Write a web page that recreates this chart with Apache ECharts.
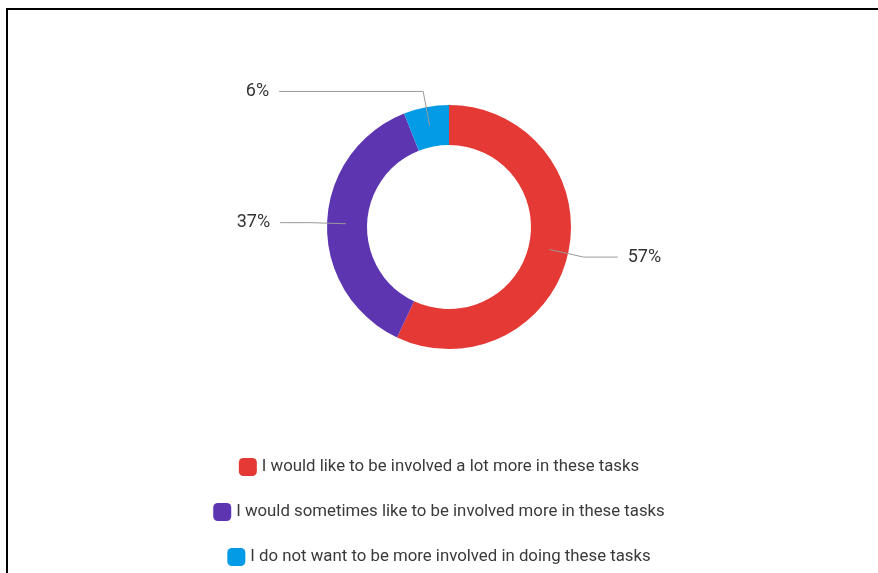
<!DOCTYPE html>
<html>
<head>
<meta charset="utf-8">
<script src="https://cdn.jsdelivr.net/npm/echarts@6/dist/echarts.min.js"></script>
<style>
html,body{margin:0;padding:0;background:#fff;}
#frame{position:absolute;left:6px;top:8px;width:1000px;height:1000px;border-left:2px solid #000;border-top:2px solid #000;box-sizing:border-box;}
#chart{position:absolute;left:0;top:0;width:878px;height:573px;}
</style>
</head>
<body>
<div id="frame"></div>
<div id="chart"></div>
<script>
const categories = [
  'I would like to be involved a lot more in these tasks',
  'I would sometimes like to be involved more in these tasks',
  'I do not want to be more involved in doing these tasks'
];
const values = [57, 37, 6];
const colors = ['#E53935', '#5E35B1', '#039BE5'];

const chart = echarts.init(document.getElementById('chart'), null, {renderer: 'canvas'});
const font = 'Roboto, "Noto Sans", sans-serif';
const lineLen2 = [34, 31, 144];
const legendTops = [453, 498, 543];
const option = {
  animation: false,
  legend: categories.map((c, i) => ({
    data: [c],
    left: 'center',
    top: legendTops[i],
    orient: 'horizontal',
    icon: 'roundRect',
    itemWidth: 18,
    itemHeight: 18,
    itemGap: 5,
    selectedMode: false,
    textStyle: {fontFamily: font, fontSize: 16.8, color: '#3a3a3a'}
  })),
  series: [
    {
      type: 'pie',
      center: [449, 227],
      radius: [82, 122],
      startAngle: 90,
      clockwise: true,
      silent: true,
      label: {show: false},
      labelLine: {show: false},
      data: categories.map((c, i) => ({name: c, value: values[i], itemStyle: {color: colors[i]}}))
    },
    {
      type: 'pie',
      center: [449, 227],
      radius: [0, 103],
      startAngle: 90,
      clockwise: true,
      silent: true,
      z: 5,
      legendHoverLink: false,
      itemStyle: {color: 'rgba(0,0,0,0)'},
      label: {
        show: true,
        position: 'outside',
        formatter: '{c}%',
        fontFamily: font,
        fontSize: 18,
        color: '#333',
        distanceToLabelLine: 10
      },
      labelLine: {show: true, length: 35, length2: 31, lineStyle: {color: '#999', width: 1}},
      data: categories.map((c, i) => ({name: c, value: values[i], labelLine: {length2: lineLen2[i]}}))
    }
  ]
};
chart.setOption(option);
</script>
</body>
</html>
